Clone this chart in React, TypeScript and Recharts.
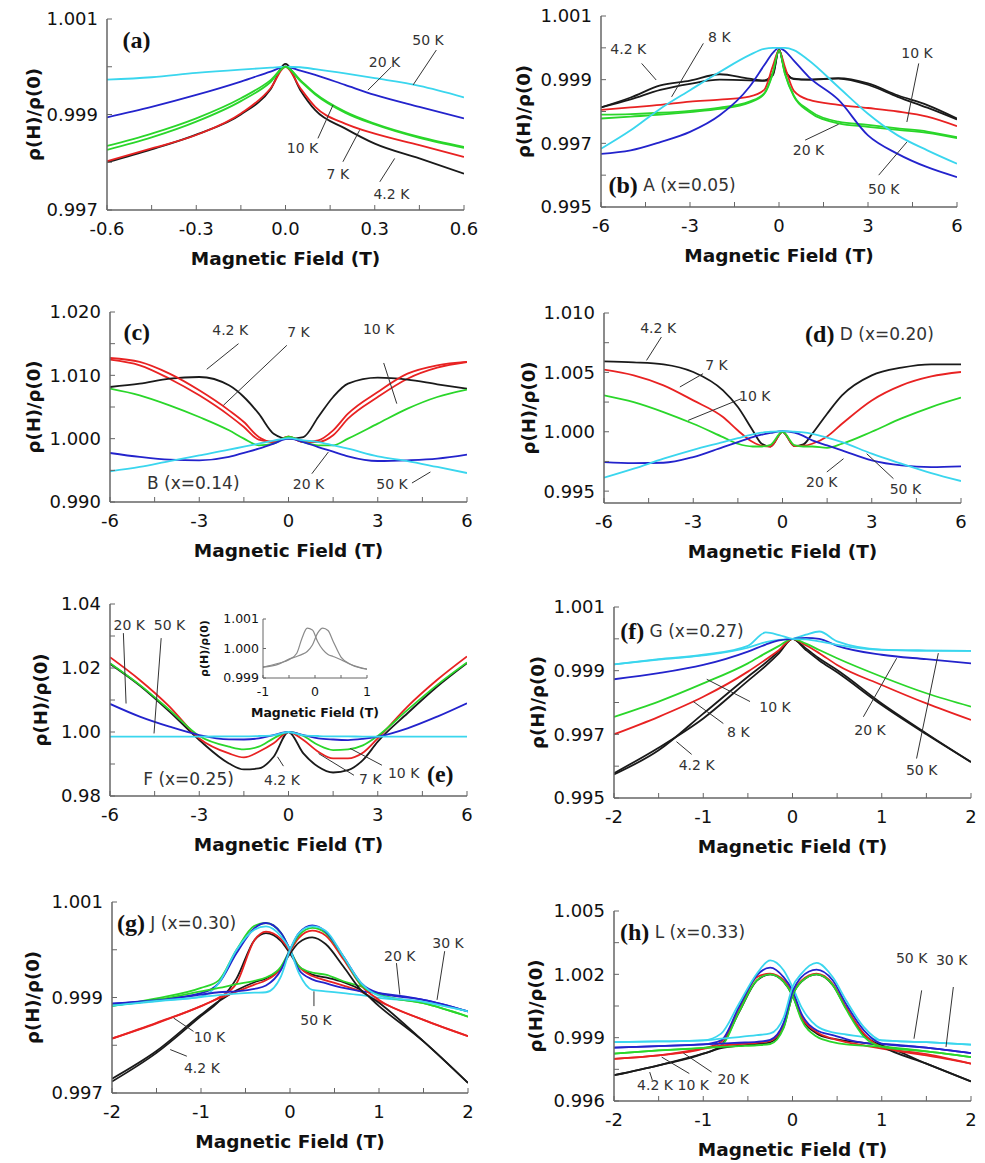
import React from 'react';
import { LineChart, Line, XAxis, YAxis, ReferenceLine, ReferenceDot } from 'recharts';

const INK = '#111';
const NOTE_INK = '#333';
const FRAME = '#666';
const C4 = '#1a1a1a';
const C7 = '#e82222';
const C10 = '#2ad62a';
const C20 = '#2323cc';
const C50 = '#3ad6ee';
const GREY = '#8a8a8a';

type Note = { x: number; y: number; text: string; letter?: string; anchor?: 'start' | 'middle' | 'end'; size?: number };
type Lead = [number, number, number, number];
type Series = { field: number[]; values: number[]; color: string };

// ---------- (a) ----------
const A_FIELD = [-0.6, -0.45, -0.3, -0.15, -0.05, 0, 0.05, 0.1, 0.2, 0.3, 0.45, 0.6];
const A_4K = [0.998, 0.99827, 0.99858, 0.999, 0.99953, 1.00006, 0.99951, 0.99909, 0.99871, 0.99839, 0.99808, 0.99776];
const A_7K = [0.99802, 0.99829, 0.99857, 0.99902, 0.99955, 1.0, 0.99955, 0.99916, 0.99881, 0.9986, 0.99836, 0.99811];
const A_10K = [0.99834, 0.9986, 0.99892, 0.99934, 0.99972, 1.0, 0.99972, 0.99944, 0.99906, 0.99881, 0.99853, 0.99832];
const A_10K_B = [0.99826, 0.99852, 0.99885, 0.99928, 0.99968, 1.0, 0.9997, 0.99942, 0.99904, 0.99879, 0.99851, 0.9983];
const A_20K = [0.99894, 0.99916, 0.99941, 0.99969, 0.9999, 1.0, 0.99992, 0.99983, 0.99962, 0.99941, 0.99916, 0.99892];
const A_50K = [0.99973, 0.99978, 0.99987, 0.99994, 0.99998, 1.0, 0.99999, 0.99995, 0.99986, 0.99976, 0.9996, 0.99936];
const A_NOTES: Note[] = [
  { x: 0.479, y: 1.00055, text: '50 K' },
  { x: 0.333, y: 1.0001, text: '20 K' },
  { x: 0.057, y: 0.99829, text: '10 K' },
  { x: 0.176, y: 0.99775, text: '7 K' },
  { x: 0.356, y: 0.99734, text: '4.2 K' },
  { x: -0.501, y: 1.00056, text: '', letter: '(a)' },
];
const A_LEADS: Lead[] = [
  [0.507, 1.00035, 0.429, 0.99962],
  [0.356, 1.0, 0.277, 0.99951],
  [0.109, 0.9985, 0.16, 0.9992],
  [0.193, 0.99801, 0.249, 0.99867],
  [0.317, 0.99759, 0.367, 0.99808],
];

// ---------- (b) ----------
const B_FIELD = [-6, -5, -4, -3, -2, -1, -0.5, -0.2, 0, 0.2, 0.5, 1, 2, 3, 4, 5, 6];
const B_4K = [0.99813, 0.99844, 0.99882, 0.99897, 0.99917, 0.99903, 0.99898, 0.9992, 0.99995, 0.9993, 0.99903, 0.999, 0.99905, 0.99888, 0.99851, 0.9982, 0.99778];
const B_4K_B = [0.99813, 0.99838, 0.99868, 0.99887, 0.999, 0.99898, 0.99896, 0.99915, 0.99995, 0.99928, 0.99902, 0.999, 0.99903, 0.99884, 0.99846, 0.99812, 0.99775];
const B_8K = [0.99805, 0.99813, 0.99821, 0.99831, 0.99837, 0.99847, 0.99868, 0.99945, 0.99993, 0.9994, 0.99865, 0.99837, 0.99821, 0.99811, 0.998, 0.99784, 0.99754];
const B_10K = [0.9979, 0.99792, 0.99796, 0.99802, 0.99812, 0.99831, 0.99857, 0.99925, 0.99993, 0.9992, 0.9985, 0.99805, 0.99768, 0.99758, 0.99747, 0.99737, 0.99719];
const B_10K_B = [0.99778, 0.99784, 0.9979, 0.99798, 0.99808, 0.99828, 0.99855, 0.99922, 0.99993, 0.99918, 0.99848, 0.998, 0.99763, 0.99752, 0.99742, 0.99733, 0.99716];
const B_20K = [0.99667, 0.99678, 0.99704, 0.99736, 0.99788, 0.99877, 0.99945, 0.99985, 1.0, 0.9999, 0.9996, 0.99909, 0.99837, 0.99725, 0.99667, 0.99625, 0.99594];
const B_50K = [0.99683, 0.99741, 0.99809, 0.99867, 0.99924, 0.99977, 0.99997, 1.0, 1.0, 1.0, 0.99993, 0.99961, 0.99877, 0.99793, 0.99725, 0.99678, 0.99636];
const B_NOTES: Note[] = [
  { x: -5.08, y: 0.99995, text: '4.2 K' },
  { x: -2.01, y: 1.00033, text: '8 K' },
  { x: 4.65, y: 0.99985, text: '10 K' },
  { x: 0.997, y: 0.99678, text: '20 K' },
  { x: 3.53, y: 0.99557, text: '50 K' },
  { x: -5.75, y: 0.99568, text: ' A (x=0.05)', letter: '(b)', anchor: 'start' },
];
const B_LEADS: Lead[] = [
  [-4.63, 0.99951, -4.14, 0.99899],
  [-2.55, 1.00014, -3.62, 0.99846],
  [4.71, 0.99951, 4.31, 0.99767],
  [0.88, 0.9971, 2.01, 0.9976],
  [3.36, 0.996, 4.31, 0.99704],
];

// ---------- (c) ----------
const C_FIELD = [-6, -5, -4, -3, -2, -1.5, -1, -0.5, 0, 0.5, 1, 1.5, 2, 3, 4, 5, 6];
const C_4K = [1.00816, 1.00868, 1.00947, 1.00974, 1.00842, 1.00658, 1.00395, 1.00079, 1.0, 1.00026, 1.00342, 1.00658, 1.00868, 1.00963, 1.00932, 1.00858, 1.0079];
const C_7K = [1.01274, 1.01211, 1.01026, 1.00763, 1.00447, 1.00263, 1.00026, 0.99947, 1.0003, 0.99947, 0.99974, 1.00132, 1.00395, 1.00737, 1.01026, 1.01158, 1.01211];
const C_7K_B = [1.01247, 1.01158, 1.00947, 1.00684, 1.00368, 1.00184, 0.99984, 0.99947, 1.0003, 0.99947, 0.99947, 1.00053, 1.00316, 1.00658, 1.00947, 1.01121, 1.01211];
const C_10K = [1.0079, 1.00684, 1.00526, 1.00342, 1.00132, 1.0, 0.99895, 0.99921, 1.0003, 0.99947, 0.99895, 0.99895, 1.0, 1.00237, 1.00474, 1.00658, 1.00774];
const C_20K = [0.99774, 0.99711, 0.99668, 0.99658, 0.99711, 0.99776, 0.99842, 0.99921, 1.0, 0.99947, 0.99868, 0.99795, 0.99721, 0.99647, 0.99658, 0.99684, 0.99747];
const C_50K = [0.99484, 0.99553, 0.99647, 0.99737, 0.99826, 0.99874, 0.99921, 0.99968, 1.0001, 0.99974, 0.99947, 0.99895, 0.99842, 0.99721, 0.99647, 0.99553, 0.99458];
const C_NOTES: Note[] = [
  { x: -5.1, y: 1.01684, text: '', letter: '(c)' },
  { x: -1.96, y: 1.01711, text: '4.2 K' },
  { x: 0.336, y: 1.01684, text: '7 K' },
  { x: 3.03, y: 1.01737, text: '10 K' },
  { x: 0.673, y: 0.99279, text: '20 K' },
  { x: 3.48, y: 0.99279, text: '50 K' },
  { x: -3.2, y: 0.993, text: 'B (x=0.14)', size: 17 },
];
const C_LEADS: Lead[] = [
  [-1.68, 1.015, -2.75, 1.01095],
  [-0.056, 1.01474, -2.19, 1.00526],
  [3.2, 1.01195, 3.64, 1.00553],
  [0.785, 0.99447, 1.34, 0.99789],
  [4.15, 0.993, 4.77, 0.99474],
];

// ---------- (d) ----------
const D_FIELD = [-6, -5, -4, -3, -2, -1.5, -1, -0.7, -0.4, 0, 0.4, 0.7, 1, 1.5, 2, 3, 4, 5, 6];
const D_4K = [1.00593, 1.00585, 1.00568, 1.00503, 1.00348, 1.00208, 1.00011, 0.99899, 0.99876, 1.0, 0.99879, 0.99893, 0.99983, 1.00152, 1.00306, 1.00475, 1.0054, 1.00568, 1.00568];
const D_7K = [1.00523, 1.00475, 1.00391, 1.00264, 1.00124, 1.00011, 0.99913, 0.99882, 0.99876, 1.0, 0.9988, 0.99882, 0.99899, 0.9996, 1.00067, 1.00264, 1.00391, 1.00466, 1.00503];
const D_10K = [1.00307, 1.0025, 1.00166, 1.00067, 0.99955, 0.99899, 0.99876, 0.99876, 0.9989, 1.0, 0.99888, 0.99876, 0.99876, 0.99865, 0.99899, 1.0, 1.00112, 1.00208, 1.00287];
const D_20K = [0.99745, 0.99736, 0.99739, 0.99787, 0.99871, 0.99913, 0.99955, 0.99975, 0.9999, 1.00006, 0.99992, 0.99965, 0.99927, 0.99885, 0.99843, 0.99759, 0.99716, 0.99702, 0.99708];
const D_50K = [0.99613, 0.99689, 0.99773, 0.99848, 0.99913, 0.99946, 0.99978, 0.99993, 1.0, 1.00006, 1.0, 0.99995, 0.99983, 0.99951, 0.99913, 0.99815, 0.99731, 0.99652, 0.99585];
const D_NOTES: Note[] = [
  { x: -4.18, y: 1.00876, text: '4.2 K' },
  { x: -2.22, y: 1.00559, text: '7 K' },
  { x: -0.93, y: 1.00298, text: '10 K' },
  { x: 1.32, y: 0.99577, text: '20 K' },
  { x: 4.13, y: 0.99521, text: '50 K' },
  { x: 0.76, y: 1.00826, text: ' D (x=0.20)', letter: '(d)', anchor: 'start' },
];
const D_LEADS: Lead[] = [
  [-4.07, 1.00798, -4.57, 1.00601],
  [-2.67, 1.00489, -3.45, 1.00377],
  [-1.38, 1.00279, -3.17, 1.00096],
  [1.49, 0.99661, 2.05, 0.99773],
  [3.73, 0.99605, 2.83, 0.99815],
];

// ---------- (e) ----------
const E_FIELD = [-6, -5, -4, -3, -2, -1.5, -1, -0.5, 0, 0.5, 1, 1.5, 2, 2.5, 3, 4, 5, 6];
const E_4K = [1.0213, 1.01452, 1.00637, 0.99749, 0.99017, 0.98829, 0.9886, 0.99227, 1.0, 0.99331, 0.98913, 0.98735, 0.98808, 0.99122, 0.99697, 1.00585, 1.01421, 1.02153];
const E_7K = [1.02338, 1.01627, 1.00794, 0.99798, 0.9933, 0.99206, 0.99383, 0.99645, 1.0, 0.99749, 0.99383, 0.99174, 0.99174, 0.9935, 0.99801, 1.00794, 1.01631, 1.02362];
const E_10K = [1.02153, 1.01473, 1.0069, 0.99875, 0.9954, 0.99457, 0.9954, 0.99801, 1.0, 0.99875, 0.99592, 0.99436, 0.99457, 0.99582, 0.99875, 1.0069, 1.01473, 1.02174];
const E_20K = [1.00878, 1.00481, 1.00167, 0.99906, 0.9977, 0.99765, 0.99801, 0.99906, 1.0, 0.99906, 0.99801, 0.99765, 0.99749, 0.99785, 0.99854, 1.00115, 1.00481, 1.00899];
const E_50K = [0.99854, 0.99854, 0.99854, 0.99854, 0.99864, 0.99864, 0.99875, 0.99896, 1.0, 0.99896, 0.99875, 0.99864, 0.99864, 0.99854, 0.99854, 0.99854, 0.99854, 0.99854];
const E_NOTES: Note[] = [
  { x: -5.35, y: 1.03352, text: '20 K' },
  { x: -4.0, y: 1.03352, text: '50 K' },
  { x: -3.36, y: 0.98544, text: 'F (x=0.25)', size: 17 },
  { x: -0.22, y: 0.98492, text: '4.2 K' },
  { x: 2.75, y: 0.98523, text: '7 K' },
  { x: 3.87, y: 0.98721, text: '10 K' },
  { x: 5.1, y: 0.987, text: '', letter: '(e)' },
];
const E_LEADS: Lead[] = [
  [-5.55, 1.0309, -5.46, 1.0089],
  [-4.28, 1.02934, -4.52, 0.99955],
  [-0.17, 0.98933, -0.37, 0.99226],
  [2.2, 0.98648, 1.01, 0.99327],
  [3.14, 0.98962, 2.07, 0.99488],
];

// ---------- (e) inset ----------
const I_FIELD = [-1, -0.7, -0.5, -0.35, -0.25, -0.15, -0.05, 0.05, 0.15, 0.25, 0.35, 0.5, 0.7, 1];
const I_DOWN = [0.99937, 0.9995, 0.99962, 0.99984, 1.00035, 1.00069, 1.00063, 1.00024, 0.99996, 0.9998, 0.99973, 0.99962, 0.99945, 0.9993];
const I_UP = [0.99937, 0.99947, 0.99964, 0.99973, 0.9998, 0.9999, 1.00012, 1.00052, 1.00069, 1.00061, 1.00024, 0.99971, 0.99945, 0.9993];

// ---------- (f) ----------
const F_FIELD = [-2, -1.5, -1, -0.5, -0.3, -0.15, 0, 0.15, 0.3, 0.5, 1, 1.5, 2];
const F_4K = [0.99574, 0.9965, 0.99765, 0.99881, 0.99925, 0.99962, 1.0, 0.9997, 0.99938, 0.99902, 0.99797, 0.99703, 0.99613];
const F_4K_B = [0.99578, 0.99658, 0.9975, 0.99868, 0.99915, 0.99955, 1.0, 0.99965, 0.99932, 0.99895, 0.99792, 0.997, 0.99613];
const F_8K = [0.997, 0.99755, 0.99818, 0.99897, 0.99935, 0.99965, 1.0, 0.9998, 0.99955, 0.99918, 0.99855, 0.99797, 0.99745];
const F_10K = [0.99755, 0.99803, 0.9986, 0.99923, 0.99955, 0.99978, 1.0, 0.99985, 0.99965, 0.99939, 0.99881, 0.99829, 0.99787];
const F_20K = [0.99873, 0.99892, 0.99918, 0.9996, 0.99982, 0.99995, 1.0, 1.00003, 1.0, 0.99978, 0.9995, 0.99936, 0.99923];
const F_50K = [0.9992, 0.99936, 0.9995, 0.99978, 1.0002, 1.00012, 1.0, 0.99998, 0.99992, 0.99981, 0.99965, 0.99963, 0.99962];
const F_50K_B = [0.9992, 0.99935, 0.99948, 0.99972, 0.9999, 0.99997, 1.0, 1.00013, 1.00023, 0.99992, 0.99966, 0.99963, 0.99962];
const F_NOTES: Note[] = [
  { x: -1.93, y: 1.00025, text: ' G (x=0.27)', letter: '(f)', anchor: 'start' },
  { x: -0.196, y: 0.99787, text: '10 K' },
  { x: -0.607, y: 0.99706, text: '8 K' },
  { x: -1.074, y: 0.99603, text: '4.2 K' },
  { x: 0.868, y: 0.99713, text: '20 K' },
  { x: 1.447, y: 0.99587, text: '50 K' },
];
const F_LEADS: Lead[] = [
  [-0.476, 0.99803, -0.961, 0.99873],
  [-0.775, 0.99734, -1.111, 0.99803],
  [-1.13, 0.99637, -1.3, 0.99677],
  [0.794, 0.99755, 1.167, 0.99939],
  [1.39, 0.99624, 1.634, 0.99955],
];

// ---------- (g) ----------
const G_FIELD = [-2, -1.5, -1, -0.8, -0.6, -0.4, -0.27, -0.1, 0, 0.1, 0.25, 0.4, 0.6, 0.8, 1, 1.5, 2];
const G_4K_L = [0.99724, 0.99784, 0.99861, 0.99892, 0.9994, 1.0002, 1.00035, 1.00018, 0.99992, 0.99965, 0.99948, 0.99942, 0.99932, 0.99915, 0.99882, 0.99808, 0.99721];
const G_4K_R = [0.9973, 0.99788, 0.99864, 0.99892, 0.99915, 0.99932, 0.9994, 0.99962, 0.99992, 1.00015, 1.00026, 1.00012, 0.99965, 0.99915, 0.99889, 0.99808, 0.99721];
const G_10K_L = [0.99814, 0.99847, 0.99882, 0.999, 0.9993, 1.0002, 1.00038, 1.00022, 0.99997, 0.99965, 0.99945, 0.99936, 0.99925, 0.99912, 0.99892, 0.99853, 0.99819];
const G_10K_R = [0.99814, 0.99846, 0.99882, 0.99898, 0.99912, 0.99927, 0.99936, 0.99962, 0.99997, 1.00025, 1.0004, 1.0003, 0.9998, 0.99925, 0.99895, 0.99853, 0.99819];
const G_20K_L = [0.99882, 0.99898, 0.9992, 0.99936, 1.0, 1.0005, 1.00056, 1.00035, 1.0, 0.99965, 0.99952, 0.99948, 0.99934, 0.99923, 0.99906, 0.99888, 0.9986];
const G_20K_R = [0.99883, 0.99895, 0.99913, 0.9992, 0.99928, 0.99935, 0.99942, 0.99965, 1.0, 1.0003, 1.00046, 1.00035, 0.99985, 0.99926, 0.99906, 0.99888, 0.9986];
const G_30K_L = [0.99887, 0.99895, 0.99909, 0.9993, 0.99993, 1.00045, 1.00056, 1.00035, 1.0, 0.99958, 0.99938, 0.9993, 0.9992, 0.99913, 0.99909, 0.99895, 0.99871];
const G_30K_R = [0.99887, 0.99894, 0.99906, 0.99911, 0.99913, 0.99918, 0.99925, 0.99958, 1.0, 1.00035, 1.00051, 1.00038, 0.99986, 0.9993, 0.99909, 0.99895, 0.99871];
const G_50K_L = [0.99883, 0.99892, 0.99902, 0.9993, 1.0, 1.00042, 1.00049, 1.00028, 1.0, 0.99951, 0.99916, 0.99913, 0.99909, 0.99905, 0.99899, 0.99891, 0.99871];
const G_50K_R = [0.99883, 0.99893, 0.99901, 0.99905, 0.99908, 0.9991, 0.99911, 0.99945, 1.0, 1.00035, 1.00049, 1.0004, 0.99986, 0.9993, 0.99904, 0.99891, 0.99871];
const G_NOTES: Note[] = [
  { x: -1.944, y: 1.00056, text: ' J (x=0.30)', letter: '(g)', anchor: 'start' },
  { x: 1.776, y: 1.00014, text: '30 K' },
  { x: 1.234, y: 0.99986, text: '20 K' },
  { x: 0.2916, y: 0.99852, text: '50 K' },
  { x: -0.905, y: 0.99817, text: '10 K' },
  { x: -0.99, y: 0.99752, text: '4.2 K' },
];
const G_LEADS: Lead[] = [
  [1.738, 0.99997, 1.652, 0.99895],
  [1.196, 0.99972, 1.234, 0.99906],
  [0.269, 0.99882, 0.269, 0.99913],
  [-1.084, 0.99829, -1.308, 0.99857],
  [-1.159, 0.99777, -1.346, 0.99791],
];

// ---------- (h) ----------
const H_FIELD = [-2, -1.5, -1, -0.8, -0.6, -0.4, -0.25, -0.1, 0, 0.1, 0.27, 0.45, 0.6, 0.8, 1, 1.5, 2];
const H_4K_L = [0.99722, 0.99769, 0.99824, 0.99862, 1.0002, 1.0017, 1.002, 1.00165, 1.001, 0.99995, 0.9992, 0.99895, 0.99885, 0.99875, 0.99862, 0.99777, 0.99693];
const H_4K_R = [0.99722, 0.99769, 0.99824, 0.9985, 0.99862, 0.9987, 0.99878, 0.9995, 1.001, 1.00165, 1.002, 1.0015, 1.0004, 0.99915, 0.9986, 0.99777, 0.99693];
const H_10K_L = [0.998, 0.99816, 0.99848, 0.99879, 1.0003, 1.00187, 1.00203, 1.00172, 1.00108, 1.0, 0.99927, 0.99895, 0.99879, 0.99864, 0.99848, 0.99816, 0.99777];
const H_10K_R = [0.998, 0.99816, 0.99848, 0.99862, 0.9987, 0.99876, 0.99885, 0.9996, 1.00108, 1.0017, 1.00203, 1.00155, 1.00045, 0.99919, 0.99855, 0.99822, 0.99777];
const H_20K_L = [0.99824, 0.9984, 0.99852, 0.99864, 1.00022, 1.00172, 1.002, 1.00165, 1.001, 0.99985, 0.99905, 0.99879, 0.99868, 0.99862, 0.99857, 0.99835, 0.99808];
const H_20K_R = [0.99824, 0.9984, 0.99852, 0.99856, 0.9986, 0.99864, 0.9987, 0.99945, 1.001, 1.00165, 1.002, 1.0015, 1.00035, 0.99905, 0.99857, 0.99835, 0.99808];
const H_30K_L = [0.99853, 0.9986, 0.99868, 0.99887, 1.00045, 1.00195, 1.00232, 1.00187, 1.00124, 1.00014, 0.99935, 0.99912, 0.99893, 0.99875, 0.9987, 0.99853, 0.99827];
const H_30K_R = [0.99853, 0.9986, 0.99868, 0.99872, 0.99876, 0.9988, 0.9989, 0.9997, 1.00116, 1.00187, 1.00222, 1.00172, 1.0006, 0.99935, 0.99872, 0.99853, 0.99827];
const H_50K_L = [0.99879, 0.99882, 0.99887, 0.99919, 1.00061, 1.00203, 1.00266, 1.00219, 1.0014, 1.00045, 0.99955, 0.99925, 0.99915, 0.99903, 0.99887, 0.99879, 0.99867];
const H_50K_R = [0.99879, 0.99882, 0.99887, 0.99895, 0.99903, 0.99912, 0.9992, 0.99995, 1.0014, 1.00203, 1.00254, 1.00187, 1.00077, 0.9995, 0.99887, 0.99879, 0.99867];
const H_NOTES: Note[] = [
  { x: -1.933, y: 1.004, text: ' L (x=0.33)', letter: '(h)', anchor: 'start' },
  { x: 1.335, y: 1.00277, text: '50 K' },
  { x: 1.783, y: 1.0027, text: '30 K' },
  { x: -1.54, y: 0.99674, text: '4.2 K' },
  { x: -1.111, y: 0.99674, text: '10 K' },
  { x: -0.663, y: 0.99706, text: '20 K' },
];
const H_LEADS: Lead[] = [
  [1.447, 1.00124, 1.361, 0.99895],
  [1.802, 1.0014, 1.72, 0.99856],
  [-1.57, 0.99698, -1.6, 0.99737],
  [-1.156, 0.9973, -1.466, 0.99808],
  [-0.906, 0.99737, -1.223, 0.99827],
];

const pts = (xs: number[], ys: number[]) => xs.map((x, i) => ({ x, y: ys[i] }));
const sameAs = (list: number[]) => (v: number) => list.some((m) => Math.abs(m - v) < 1e-9);

type Look = {
  ML: number; MR: number; MT: number; MB: number;
  tickFont: number; tickSize: number; xGap: number; yGap: number;
  titleFont: number; titleDy: number; yTitleFont: number; stroke: number;
};
const MAIN: Look = { ML: 90, MR: 25, MT: 10, MB: 70, tickFont: 18, tickSize: -5, xGap: 17, yGap: 14, titleFont: 18.5, titleDy: 48, yTitleFont: 18, stroke: 1.8 };
const SMALL: Look = { ML: 70, MR: 12, MT: 8, MB: 45, tickFont: 12.5, tickSize: -3, xGap: 12, yGap: 7, titleFont: 12.5, titleDy: 34, yTitleFont: 11, stroke: 1.2 };

function XTitle({ viewBox, text, dy, size }: any) {
  const { x, y, width } = viewBox;
  return (
    <text x={x + width / 2} y={y + dy} textAnchor="middle" dominantBaseline="central" fontSize={size} fontWeight="bold" fill={INK}>
      {text}
    </text>
  );
}

function YTitle({ viewBox, text, off, size }: any) {
  const { x, y, width, height } = viewBox;
  const cx = x + width - off;
  const cy = y + height / 2;
  return (
    <text x={cx} y={cy} transform={`rotate(-90 ${cx} ${cy})`} textAnchor="middle" dominantBaseline="central" fontSize={size} fontWeight="bold" fill={INK}>
      {text}
    </text>
  );
}

const noteShape = (n: Note) => (p: any) => (
  <text x={p.cx} y={p.cy} textAnchor={n.anchor ?? 'middle'} dominantBaseline="central" fill={NOTE_INK} fontSize={n.size ?? 14}>
    {n.letter && (
      <tspan fontFamily="'Liberation Serif', serif" fontWeight="bold" fontSize={24} fill={INK}>
        {n.letter}
      </tspan>
    )}
    {n.text && <tspan fontSize={n.letter ? 17 : n.size ?? 14}>{n.text}</tspan>}
  </text>
);

type PanelProps = {
  box: [number, number, number, number];
  yOff: number;
  look?: Look;
  xDomain: [number, number]; xMajor: number[]; xMinor: number[]; xDec: number;
  yDomain: [number, number]; yMajor: number[]; yMinor: number[]; yDec: number;
  series: Series[];
  notes?: Note[];
  leads?: Lead[];
};

function Panel(p: PanelProps) {
  const k = p.look ?? MAIN;
  const [l, t, r, b] = p.box;
  const frame = { stroke: FRAME, strokeWidth: k === MAIN ? 1.5 : 1 };
  const xTicks = [...p.xMajor, ...p.xMinor].sort((a, c) => a - c);
  const yTicks = [...p.yMajor, ...p.yMinor].sort((a, c) => a - c);
  const xMaj = sameAs(p.xMajor);
  const yMaj = sameAs(p.yMajor);
  return (
    <div style={{ position: 'absolute', left: l - k.ML, top: t - k.MT }}>
      <LineChart width={k.ML + r - l + k.MR} height={k.MT + b - t + k.MB} margin={{ top: k.MT, right: k.MR, bottom: 0, left: 0 }}>
        <XAxis
          type="number" dataKey="x" domain={p.xDomain} allowDataOverflow ticks={xTicks} interval={0}
          tickFormatter={(v: number) => (xMaj(v) ? v.toFixed(p.xDec) : '')}
          height={k.MB} tickSize={k.tickSize} tickMargin={k.xGap}
          axisLine={frame} tickLine={{ stroke: FRAME }} tick={{ fill: INK, fontSize: k.tickFont }}
          label={<XTitle text="Magnetic Field (T)" dy={k.titleDy} size={k.titleFont} />}
        />
        <YAxis
          type="number" domain={p.yDomain} allowDataOverflow ticks={yTicks} interval={0}
          tickFormatter={(v: number) => (yMaj(v) ? v.toFixed(p.yDec) : '')}
          width={k.ML} tickSize={k.tickSize} tickMargin={k.yGap}
          axisLine={frame} tickLine={{ stroke: FRAME }} tick={{ fill: INK, fontSize: k.tickFont }}
          label={<YTitle text="ρ(H)/ρ(0)" off={p.yOff} size={k.yTitleFont} />}
        />
        <XAxis xAxisId="top" orientation="top" type="number" domain={p.xDomain} height={0} tick={false} tickLine={false} axisLine={frame} />
        <YAxis yAxisId="right" orientation="right" type="number" domain={p.yDomain} width={0} tick={false} tickLine={false} axisLine={frame} />
        {p.series.map((s, i) => (
          <Line
            key={i} data={pts(s.field, s.values)} dataKey="y" type="monotone" stroke={s.color}
            strokeWidth={k.stroke} dot={false} activeDot={false} isAnimationActive={false}
          />
        ))}
        {(p.leads ?? []).map(([x1, y1, x2, y2], i) => (
          <ReferenceLine key={`l${i}`} segment={[{ x: x1, y: y1 }, { x: x2, y: y2 }]} stroke="#333" strokeWidth={1} />
        ))}
        {(p.notes ?? []).map((n, i) => (
          <ReferenceDot key={`n${i}`} x={n.x} y={n.y} r={0} shape={noteShape(n)} />
        ))}
      </LineChart>
    </div>
  );
}

const set5 = (f: number[], a: number[], b: number[], c: number[], d: number[], e: number[]): Series[] => [
  { field: f, values: a, color: C4 },
  { field: f, values: b, color: C7 },
  { field: f, values: c, color: C10 },
  { field: f, values: d, color: C20 },
  { field: f, values: e, color: C50 },
];

export default function App() {
  return (
    <div
      style={{
        position: 'absolute', left: 0, top: 0, width: 985, height: 1163, background: '#fff',
        fontFamily: "'DejaVu Sans', 'Liberation Sans', Arial, sans-serif", overflow: 'hidden',
      }}
    >
      <Panel
        box={[107, 19, 464, 210]} yOff={74}
        xDomain={[-0.6, 0.6]} xMajor={[-0.6, -0.3, 0, 0.3, 0.6]} xMinor={[-0.45, -0.15, 0.15, 0.45]} xDec={1}
        yDomain={[0.997, 1.001]} yMajor={[0.997, 0.999, 1.001]} yMinor={[0.998, 1.0]} yDec={3}
        series={[
          ...set5(A_FIELD, A_4K, A_7K, A_10K, A_20K, A_50K),
          { field: A_FIELD, values: A_10K_B, color: C10 },
        ]}
        notes={A_NOTES} leads={A_LEADS}
      />
      <Panel
        box={[601, 16, 957, 207]} yOff={78}
        xDomain={[-6, 6]} xMajor={[-6, -3, 0, 3, 6]} xMinor={[-4.5, -1.5, 1.5, 4.5]} xDec={0}
        yDomain={[0.995, 1.001]} yMajor={[0.995, 0.997, 0.999, 1.001]} yMinor={[0.996, 0.998, 1.0]} yDec={3}
        series={[
          { field: B_FIELD, values: B_4K_B, color: C4 },
          { field: B_FIELD, values: B_10K_B, color: C10 },
          ...set5(B_FIELD, B_4K, B_8K, B_10K, B_20K, B_50K),
        ]}
        notes={B_NOTES} leads={B_LEADS}
      />
      <Panel
        box={[110, 312, 467, 502]} yOff={77}
        xDomain={[-6, 6]} xMajor={[-6, -3, 0, 3, 6]} xMinor={[-4.5, -1.5, 1.5, 4.5]} xDec={0}
        yDomain={[0.99, 1.02]} yMajor={[0.99, 1.0, 1.01, 1.02]} yMinor={[0.995, 1.005, 1.015]} yDec={3}
        series={[
          { field: C_FIELD, values: C_7K_B, color: C7 },
          ...set5(C_FIELD, C_4K, C_7K, C_10K, C_20K, C_50K),
        ]}
        notes={C_NOTES} leads={C_LEADS}
      />
      <Panel
        box={[604, 313, 961, 503]} yOff={76}
        xDomain={[-6, 6]} xMajor={[-6, -3, 0, 3, 6]} xMinor={[-4.5, -1.5, 1.5, 4.5]} xDec={0}
        yDomain={[0.994, 1.01]} yMajor={[0.995, 1.0, 1.005, 1.01]} yMinor={[0.9975, 1.0025, 1.0075]} yDec={3}
        series={set5(D_FIELD, D_4K, D_7K, D_10K, D_20K, D_50K)}
        notes={D_NOTES} leads={D_LEADS}
      />
      <Panel
        box={[110, 604, 467, 796]} yOff={70}
        xDomain={[-6, 6]} xMajor={[-6, -3, 0, 3, 6]} xMinor={[-4.5, -1.5, 1.5, 4.5]} xDec={0}
        yDomain={[0.98, 1.04]} yMajor={[0.98, 1.0, 1.02, 1.04]} yMinor={[0.99, 1.01, 1.03]} yDec={2}
        series={set5(E_FIELD, E_4K, E_7K, E_10K, E_20K, E_50K)}
        notes={E_NOTES} leads={E_LEADS}
      />
      <Panel
        box={[263, 619, 367, 678]} yOff={59} look={SMALL}
        xDomain={[-1, 1]} xMajor={[-1, 0, 1]} xMinor={[-0.5, 0.5]} xDec={0}
        yDomain={[0.999, 1.001]} yMajor={[0.999, 1.0, 1.001]} yMinor={[]} yDec={3}
        series={[
          { field: I_FIELD, values: I_DOWN, color: GREY },
          { field: I_FIELD, values: I_UP, color: GREY },
        ]}
      />
      <Panel
        box={[614, 607, 971, 798]} yOff={77}
        xDomain={[-2, 2]} xMajor={[-2, -1, 0, 1, 2]} xMinor={[-1.5, -0.5, 0.5, 1.5]} xDec={0}
        yDomain={[0.995, 1.001]} yMajor={[0.995, 0.997, 0.999, 1.001]} yMinor={[0.996, 0.998, 1.0]} yDec={3}
        series={[
          { field: F_FIELD, values: F_4K_B, color: C4 },
          { field: F_FIELD, values: F_50K_B, color: C50 },
          ...set5(F_FIELD, F_4K, F_8K, F_10K, F_20K, F_50K),
        ]}
        notes={F_NOTES} leads={F_LEADS}
      />
      <Panel
        box={[112, 902, 468, 1093]} yOff={80}
        xDomain={[-2, 2]} xMajor={[-2, -1, 0, 1, 2]} xMinor={[-1.5, -0.5, 0.5, 1.5]} xDec={0}
        yDomain={[0.997, 1.001]} yMajor={[0.997, 0.999, 1.001]} yMinor={[0.998, 1.0]} yDec={3}
        series={[
          ...set5(G_FIELD, G_4K_L, G_10K_L, G_20K_L, G_30K_L, G_50K_L),
          ...set5(G_FIELD, G_4K_R, G_10K_R, G_20K_R, G_30K_R, G_50K_R),
        ]}
        notes={G_NOTES} leads={G_LEADS}
      />
      <Panel
        box={[614, 911, 971, 1101]} yOff={79}
        xDomain={[-2, 2]} xMajor={[-2, -1, 0, 1, 2]} xMinor={[-1.5, -0.5, 0.5, 1.5]} xDec={0}
        yDomain={[0.996, 1.005]} yMajor={[0.996, 0.999, 1.002, 1.005]} yMinor={[0.9975, 1.0005, 1.0035]} yDec={3}
        series={[
          ...set5(H_FIELD, H_4K_L, H_10K_L, H_20K_L, H_30K_L, H_50K_L),
          ...set5(H_FIELD, H_4K_R, H_10K_R, H_20K_R, H_30K_R, H_50K_R),
        ]}
        notes={H_NOTES} leads={H_LEADS}
      />
    </div>
  );
}
